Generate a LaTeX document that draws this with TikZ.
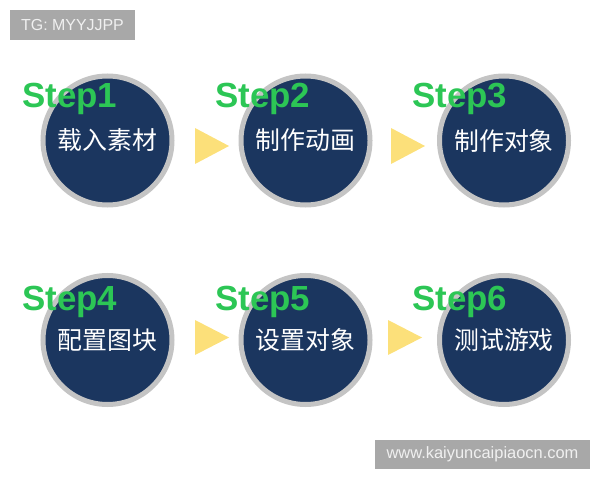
\documentclass[tikz,border=0pt]{standalone}
\usepackage{fontspec}
\setmainfont{Liberation Sans}
\newfontfamily\cjk{Noto Sans CJK SC}
\usepackage{tikz}
\definecolor{navy}{HTML}{1B365F}
\definecolor{ring}{HTML}{C4C4C4}
\definecolor{stepgreen}{HTML}{2CC655}
\definecolor{arrowyellow}{HTML}{FCE07A}
\definecolor{tagbox}{HTML}{A8A8A8}

\begin{document}
\begin{tikzpicture}[x=1bp,y=-1bp,
						every stage/.style={circle,fill=navy,draw=ring,
						line width=5bp,minimum size=129bp,inner sep=0pt,
						text=white,font=\cjk\fontsize{25}{30}\selectfont},
						every steplabel/.style={anchor=base west,inner sep=0pt,
						text=stepgreen,font=\bfseries\fontsize{35}{40}\selectfont},
						every tag/.style={fill=tagbox,text=white!94!black,
						inner sep=0pt,font=\fontsize{16}{18}\selectfont}]

		\useasboundingbox (0,0) rectangle (600,480);

		\node[every tag,minimum width=125bp,minimum height=30bp] (tg) at (72.5,25) {TG: MYYJJPP};
		\node[every tag,minimum width=215bp,minimum height=29bp,font=\fontsize{16.5}{18}\selectfont] (site) at (482.5,454.5) {www.kaiyuncaipiaocn.com};

		\node[every stage] (s1) at (107.5,140.5) {载入素材};
		\node[every stage] (s2) at (305.5,140.5) {制作动画};
		\node[every stage] (s3) at (504,140.5) {制作对象};
		\node[every stage] (s4) at (107.5,340) {配置图块};
		\node[every stage] (s5) at (305.5,340) {设置对象};
		\node[every stage] (s6) at (504,340) {测试游戏};

		\node[every steplabel] (l1) at (22,108) {Step1};
		\node[every steplabel] (l2) at (215,108) {Step2};
		\node[every steplabel] (l3) at (412,108) {Step3};
		\node[every steplabel] (l4) at (22,310) {Step4};
		\node[every steplabel] (l5) at (215,310) {Step5};
		\node[every steplabel] (l6) at (412,310) {Step6};

		\fill[arrowyellow] (195,128) -- (229,146) -- (195,164) -- cycle;
		\fill[arrowyellow] (391,128) -- (425,146) -- (391,164) -- cycle;
		\fill[arrowyellow] (195,320) -- (229,337.5) -- (195,355) -- cycle;
		\fill[arrowyellow] (388,320) -- (422,337.5) -- (388,355) -- cycle;

	\end{tikzpicture}
\end{document}
